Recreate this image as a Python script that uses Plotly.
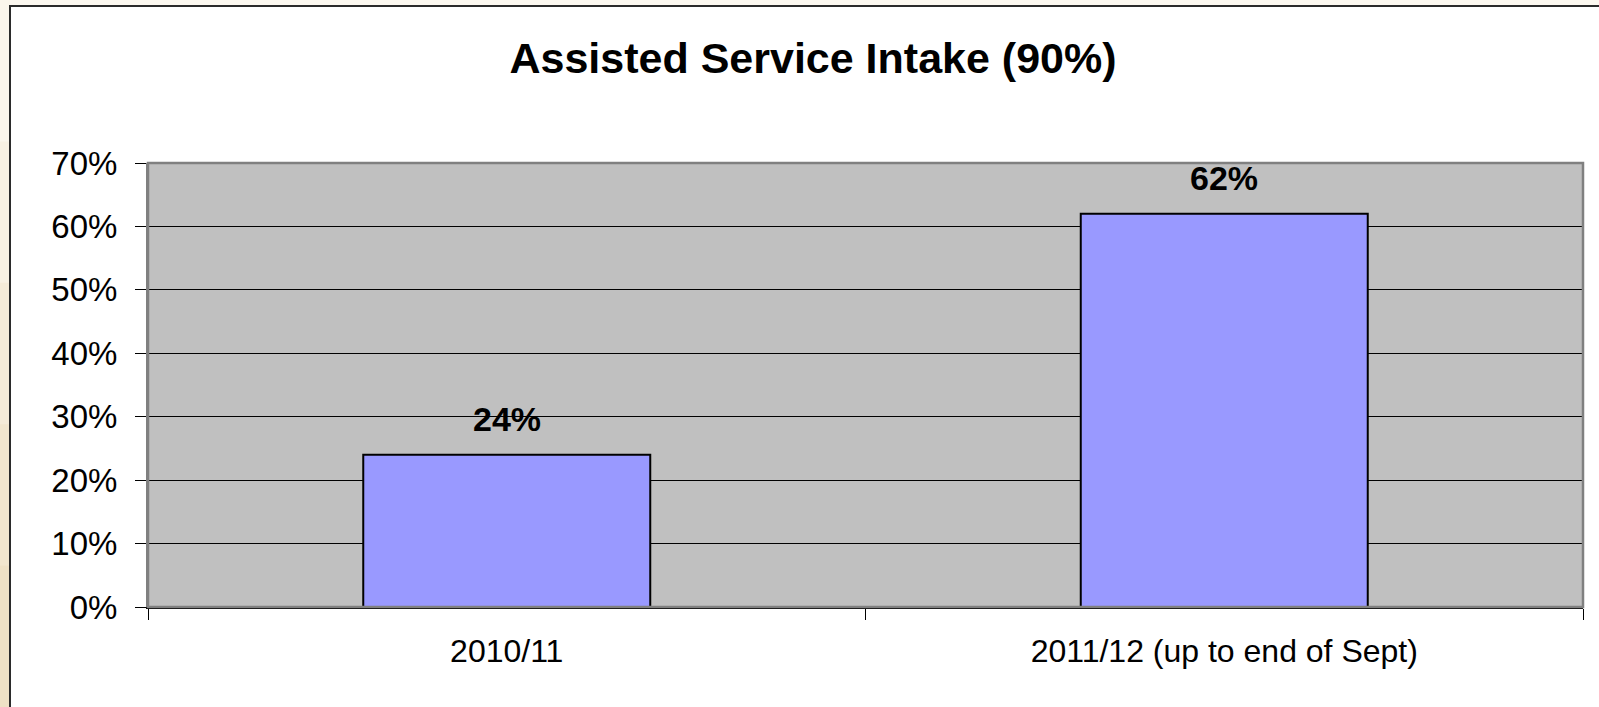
import plotly.graph_objects as go

categories = ["2010/11", "2011/12 (up to end of Sept)"]
values = [24, 62]
value_labels = ["24%", "62%"]
y_ticks = [0, 10, 20, 30, 40, 50, 60, 70]
y_tick_labels = ["0%", "10%", "20%", "30%", "40%", "50%", "60%", "70%"]
title_text = "Assisted Service Intake (90%)"

W, H = 1599, 707
L, R, T, B = 148, 1583, 163, 607

def px_x(p):
    return (p - L) / (R - L)

def px_y(p):
    return (B - p) / (B - T)

fig = go.Figure()
fig.add_trace(go.Bar(
    x=categories, y=values,
    marker=dict(color="#9999FF", line=dict(color="#000000", width=2)),
    hoverinfo="skip",
))

for c, v, lab in zip(categories, values, value_labels):
    fig.add_annotation(x=c, y=v, text="<b>" + lab + "</b>", showarrow=False,
                       yanchor="bottom", yshift=15,
                       font=dict(family="Liberation Sans, Arial", size=34, color="#000000"))

shapes = []
# left beige stripe bands (gradient approximation)
band_cols = ["#FBF6EC", "#F8F1E3", "#F5EBD8", "#F2E6CE", "#EFE1C5"]
n = len(band_cols)
for i, col in enumerate(band_cols):
    y0 = i * H / n
    y1 = (i + 1) * H / n
    shapes.append(dict(type="rect", xref="paper", yref="paper",
                       x0=px_x(-5), x1=px_x(10), y0=px_y(y1 + 1), y1=px_y(y0),
                       fillcolor=col, line=dict(width=0), layer="below"))
# white chart box
shapes.append(dict(type="rect", xref="paper", yref="paper",
                   x0=px_x(10), x1=px_x(W + 20), y0=px_y(H + 20), y1=px_y(6),
                   fillcolor="#FFFFFF", line=dict(color="#2B2B2B", width=2), layer="below"))
# plot area background
shapes.append(dict(type="rect", xref="paper", yref="paper",
                   x0=0, x1=1, y0=0, y1=1,
                   fillcolor="#C0C0C0", line=dict(width=0), layer="below"))
# plot area frame
shapes.append(dict(type="rect", xref="paper", yref="paper",
                   x0=0, x1=1, y0=0, y1=1,
                   line=dict(color="#808080", width=2.5), fillcolor="rgba(0,0,0,0)", layer="above"))

fig.update_layout(
    width=W, height=H,
    margin=dict(l=L, r=W - R, t=T, b=H - B, pad=0),
    paper_bgcolor="#FCF8F0",
    plot_bgcolor="#C0C0C0",
    bargap=0.6,
    showlegend=False,
    shapes=shapes,
    title=dict(text="<b>" + title_text + "</b>", x=813 / W, xanchor="center",
               xref="container", yref="container", y=1 - 58 / H, yanchor="middle",
               font=dict(family="Liberation Sans, Arial", size=43, color="#000000")),
    font=dict(family="Liberation Sans, Arial", color="#000000"),
)

fig.update_xaxes(
    type="category",
    tickson="boundaries",
    ticks="outside", ticklen=11, tickcolor="#000000", tickwidth=1,
    showline=True, linecolor="#000000", linewidth=2,
    showgrid=False,
    tickfont=dict(family="Liberation Sans, Arial", size=32, color="#000000"),
    ticklabelstandoff=15,
)
fig.update_yaxes(
    range=[0, 70],
    tickvals=y_ticks, ticktext=y_tick_labels,
    ticks="outside", ticklen=11, tickcolor="#000000", tickwidth=1,
    showline=True, linecolor="#808080", linewidth=2,
    showgrid=True, gridcolor="#000000", gridwidth=1,
    zeroline=False,
    tickfont=dict(family="Liberation Sans, Arial", size=33, color="#000000"),
    ticklabelstandoff=11,
)

fig.write_html("out.html",
               config={"displayModeBar": False},
               post_script="document.body.style.margin='0';document.body.style.overflow='hidden';")
